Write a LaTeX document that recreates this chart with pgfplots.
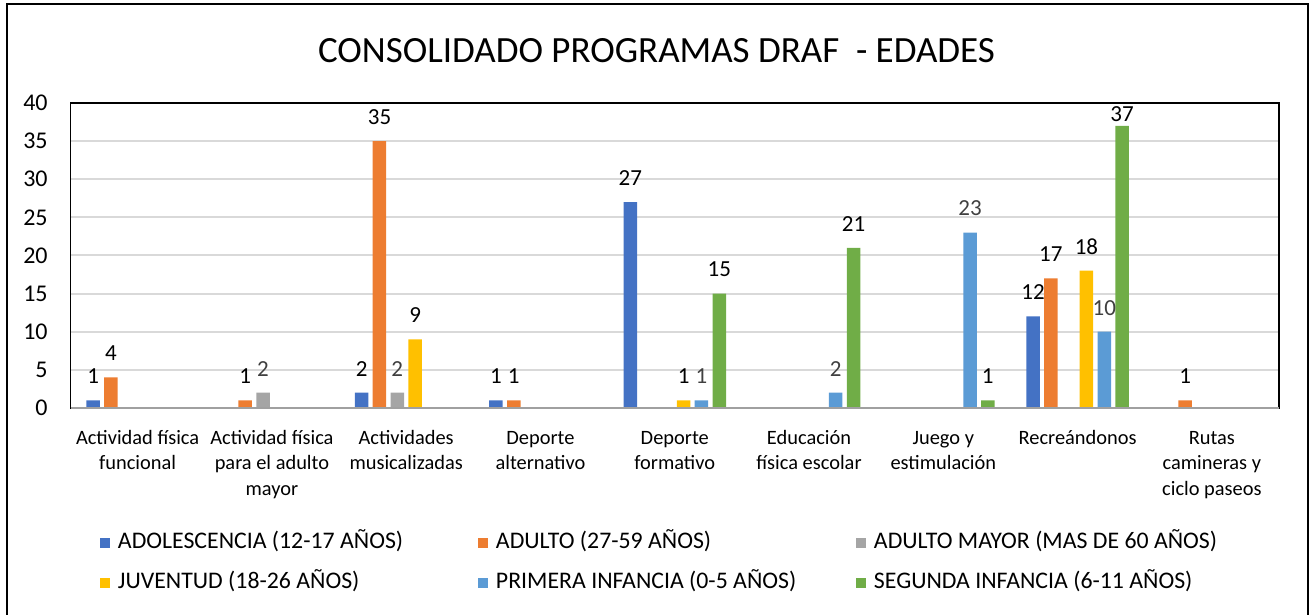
\documentclass[border=0pt]{standalone}
\usepackage{fontspec}
\setmainfont{Carlito}
\usepackage{pgfplots}
\pgfplotsset{compat=1.18}
\definecolor{cA}{HTML}{4472C4}
\definecolor{cB}{HTML}{ED7D31}
\definecolor{cC}{HTML}{A5A5A5}
\definecolor{cD}{HTML}{FFC000}
\definecolor{cE}{HTML}{5B9BD5}
\definecolor{cF}{HTML}{70AD47}
\definecolor{gridc}{HTML}{D9D9D9}
\definecolor{labgray}{HTML}{404040}
\definecolor{baseline}{HTML}{A0A0A0}
\begin{document}
\begin{tikzpicture}
\useasboundingbox (0,0) rectangle (656pt,307.5pt);
\draw[line width=1pt] (3.25pt,-2pt) -- (3.25pt,305.5pt) -- (653.75pt,305.5pt) -- (653.75pt,-2pt);
\node[font=\fontsize{18.5}{22}\selectfont, anchor=base, inner sep=0pt] at (328.25pt,276pt) {CONSOLIDADO PROGRAMAS DRAF\ \ - EDADES};
\begin{axis}[
  at={(35.25pt,103.5pt)}, anchor=south west,
  scale only axis, width=604.25pt, height=152.5pt,
  /pgf/number format/assume math mode=true,
  ymin=0, ymax=40, ytick={0,5,...,40},
  xmin=-0.5, xmax=8.5, xtick={0,...,8},
  xticklabels={
    {\strut Actividad física\\funcional},
    {\strut Actividad física\\para el adulto\\mayor},
    {\strut Actividades\\musicalizadas},
    {\strut Deporte\\alternativo},
    {\strut Deporte\\formativo},
    {\strut Educación\\física escolar},
    {\strut Juego y\\estimulación},
    {\strut Recreándonos\\\strut},
    {\strut Rutas\\camineras y\\ciclo paseos}},
  ybar=2.15pt, bar width=6.75pt,
  ymajorgrids, major grid style={color=gridc, line width=1pt},
  major tick length=0pt,
  axis line style={black, line width=0.75pt},
  yticklabel style={font=\fontsize{12}{14}\selectfont, anchor=east, inner sep=0pt, xshift=-11.25pt},
  xticklabel style={font=\fontsize{10.2}{12.75}\selectfont, align=center, anchor=north, inner sep=0pt, yshift=-9.1pt},
  nodes near coords,
  nodes near coords style={font=\fontsize{11.5}{13}\selectfont, anchor=base, inner sep=0pt, yshift=8.35pt, text=black},
  clip=false,
  legend columns=3,
  legend cell align=left,
  legend style={at={(axis description cs:0.0244,-0.4033)}, anchor=north west, draw=none, fill=none,
    inner sep=0pt, outer sep=0pt, row sep=8.5pt, column sep=0pt,
    font=\fontsize{11.9}{14}\selectfont,
    nodes={inner sep=0pt, text height=8.5pt, text depth=3pt},
    /tikz/every odd column/.append style={column sep=4pt}},
  legend image code/.code={\fill[#1, draw=none] (0pt,-2.5pt) rectangle (5pt,2.5pt);},
]
\addplot[fill=cA, draw=none] coordinates {(0,1) (2,2) (3,1) (4,27) (7,12)};
\addlegendentry{\makebox[180pt][l]{ADOLESCENCIA (12-17 AÑOS)}}
\addplot[fill=cB, draw=none] coordinates {(0,4) (1,1) (2,35) (3,1) (7,17) (8,1)};
\addlegendentry{\makebox[180pt][l]{ADULTO (27-59 AÑOS)}}
\addplot[fill=cC, draw=none, every node near coord/.append style={text=labgray}] coordinates {(1,2) (2,2)};
\addlegendentry{ADULTO MAYOR (MAS DE 60 AÑOS)}
\addplot[fill=cD, draw=none] coordinates {(2,9) (4,1) (7,18)};
\addlegendentry{\makebox[180pt][l]{JUVENTUD (18-26 AÑOS)}}
\addplot[fill=cE, draw=none, every node near coord/.append style={text=labgray}] coordinates {(4,1) (5,2) (6,23) (7,10)};
\addlegendentry{\makebox[180pt][l]{PRIMERA INFANCIA (0-5 AÑOS)}}
\addplot[fill=cF, draw=none, visualization depends on={y \as \rawy},
  every node near coord/.append style={yshift={\rawy>36 ? -6 : 0}}] coordinates {(4,15) (5,21) (6,1) (7,37)};
\addlegendentry{SEGUNDA INFANCIA (6-11 AÑOS)}
\draw[color=baseline, line width=1pt] (rel axis cs:0,0) -- (rel axis cs:1,0);
\end{axis}
\end{tikzpicture}
\end{document}
